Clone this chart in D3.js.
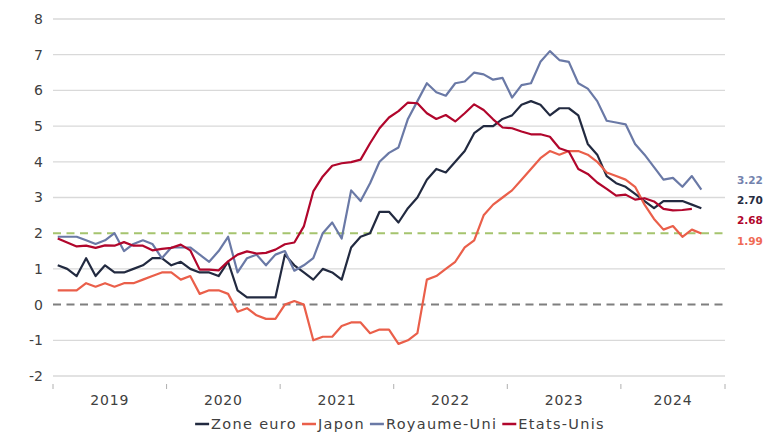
<!DOCTYPE html>
<html>
<head>
<meta charset="utf-8">
<script src="https://cdn.jsdelivr.net/npm/d3@7"></script>
<style>
  html, body { margin: 0; padding: 0; background: #fff; }
  svg { display: block; font-family: "DejaVu Sans", Verdana, sans-serif; }
</style>
</head>
<body>
<svg id="chart" width="765" height="433"></svg>
<script>
// Years on the category axis and how many months each one holds (Jan 2019 - Nov 2024).
const years = ["2019", "2020", "2021", "2022", "2023", "2024"];
const monthsPerYear = [12, 12, 12, 12, 12, 11];
const yTicks = [-2, -1, 0, 1, 2, 3, 4, 5, 6, 7, 8];

// Monthly values, starting Jan 2019.
const zoneEuro = [
  1.1, 1.0, 0.8, 1.3, 0.8, 1.1, 0.9, 0.9, 1.0, 1.1, 1.3, 1.3,
  1.1, 1.2, 1.0, 0.9, 0.9, 0.8, 1.2, 0.4, 0.2, 0.2, 0.2, 0.2,
  1.4, 1.1, 0.9, 0.7, 1.0, 0.9, 0.7, 1.6, 1.9, 2.0, 2.6, 2.6,
  2.3, 2.7, 3.0, 3.5, 3.8, 3.7, 4.0, 4.3, 4.8, 5.0, 5.0, 5.2,
  5.3, 5.6, 5.7, 5.6, 5.3, 5.5, 5.5, 5.3, 4.5, 4.2, 3.6, 3.4,
  3.3, 3.1, 2.9, 2.7, 2.9, 2.9, 2.9, 2.8, 2.7
];
const japon = [
  0.4, 0.4, 0.4, 0.6, 0.5, 0.6, 0.5, 0.6, 0.6, 0.7, 0.8, 0.9,
  0.9, 0.7, 0.8, 0.3, 0.4, 0.4, 0.3, -0.2, -0.1, -0.3, -0.4, -0.4,
  0.0, 0.1, 0.0, -1.0, -0.9, -0.9, -0.6, -0.5, -0.5, -0.8, -0.7, -0.7,
  -1.1, -1.0, -0.8, 0.7, 0.8, 1.0, 1.2, 1.6, 1.8, 2.5, 2.8, 3.0,
  3.2, 3.5, 3.8, 4.1, 4.3, 4.2, 4.3, 4.3, 4.2, 4.0, 3.7, 3.6,
  3.5, 3.3, 2.8, 2.4, 2.1, 2.2, 1.9, 2.1, 1.99
];
const royaumeUni = [
  1.9, 1.9, 1.9, 1.8, 1.7, 1.8, 2.0, 1.5, 1.7, 1.8, 1.7, 1.3,
  1.6, 1.6, 1.6, 1.4, 1.2, 1.5, 1.9, 0.9, 1.3, 1.4, 1.1, 1.4,
  1.5, 0.95, 1.1, 1.3, 2.0, 2.3, 1.85, 3.2, 2.9, 3.4, 4.0, 4.25,
  4.4, 5.2, 5.7, 6.2, 5.95, 5.85, 6.2, 6.25, 6.5, 6.45, 6.3, 6.35,
  5.8, 6.15, 6.2, 6.8, 7.1, 6.85, 6.8, 6.2, 6.05, 5.7, 5.15, 5.1,
  5.05, 4.5, 4.2, 3.85, 3.5, 3.55, 3.3, 3.6, 3.22
];
const etatsUnis = [
  1.85, 1.74, 1.63, 1.65, 1.59, 1.66, 1.65, 1.75, 1.65, 1.65, 1.52, 1.56,
  1.59, 1.68, 1.52, 0.98, 0.98, 0.96, 1.21, 1.4, 1.49, 1.43, 1.45, 1.54,
  1.69, 1.74, 2.19, 3.17, 3.59, 3.89, 3.96, 3.99, 4.06, 4.52, 4.94, 5.24,
  5.42, 5.66, 5.64, 5.36, 5.2, 5.31, 5.13, 5.36, 5.61, 5.45, 5.19, 4.96,
  4.94, 4.85, 4.77, 4.77, 4.7, 4.38, 4.29, 3.8, 3.66, 3.42, 3.24, 3.05,
  3.08, 2.94, 2.98, 2.89, 2.68, 2.64, 2.65, 2.68
];
const seriesNames = ["Zone euro", "Japon", "Royaume-Uni", "Etats-Unis"];
const seriesValues = [zoneEuro, japon, royaumeUni, etatsUnis];
const lastLabels = ["2.70", "1.99", "3.22", "2.68"];
const target = 2;

const colors = ["#222a40", "#ea5f4a", "#6a79a6", "#b1062c"];
const labelColors = ["#262c40", "#f06a55", "#7382ad", "#b1062c"];

const svg = d3.select("#chart");
const nMonths = d3.sum(monthsPerYear);

const x = d3.scaleLinear().domain([0, nMonths]).range([53, 725]);
const y = d3.scaleLinear().domain([-2, 8]).range([376, 19]);
const xc = (i) => x(i + 0.5);

// Gridlines (0 and 2 get dashed reference lines instead).
svg.append("g")
  .selectAll("line")
  .data(yTicks.filter((t) => t !== 0 && t !== target))
  .join("line")
  .attr("x1", x(0)).attr("x2", x(nMonths))
  .attr("y1", (d) => y(d)).attr("y2", (d) => y(d))
  .attr("stroke", "#d9d9d9").attr("stroke-width", 1.3);

// Y axis labels (plain hyphen for negatives, as in the source).
const yAxis = svg.append("g")
  .attr("transform", `translate(${x(0) - 10},0)`)
  .call(d3.axisLeft(y).tickValues(yTicks).tickSize(0).tickPadding(0).tickFormat((d) => String(d)));
yAxis.select(".domain").remove();
yAxis.selectAll("text")
  .attr("font-family", "DejaVu Sans, Verdana, sans-serif")
  .attr("font-size", "14px").attr("fill", "#404040");

// Reference lines at 0 and at the 2% target.
svg.append("line")
  .attr("x1", x(0)).attr("x2", x(nMonths))
  .attr("y1", y(0)).attr("y2", y(0))
  .attr("stroke", "#7f7f7f").attr("stroke-width", 2).attr("stroke-dasharray", "8,5.5");
svg.append("line")
  .attr("x1", x(0)).attr("x2", x(nMonths))
  .attr("y1", y(target)).attr("y2", y(target))
  .attr("stroke", "#a5c46e").attr("stroke-width", 2).attr("stroke-dasharray", "8,5.5");

// Year ticks and labels.
const yearStarts = d3.cumsum([0, ...monthsPerYear]);
svg.append("g")
  .selectAll("line")
  .data(yearStarts)
  .join("line")
  .attr("x1", (d) => x(d)).attr("x2", (d) => x(d))
  .attr("y1", 384).attr("y2", 389)
  .attr("stroke", "#b0b0b0").attr("stroke-width", 1);
svg.append("g")
  .selectAll("text")
  .data(years)
  .join("text")
  .attr("x", (d, i) => (x(yearStarts[i]) + x(yearStarts[i + 1])) / 2)
  .attr("y", 405)
  .attr("text-anchor", "middle")
  .attr("font-size", "14px").attr("letter-spacing", "0.8px")
  .attr("fill", "#404040")
  .text((d) => d);

// Series lines.
const line = d3.line().x((d, i) => xc(i)).y((d) => y(d));
seriesValues.forEach((vals, k) => {
  svg.append("path")
    .datum(vals)
    .attr("d", line)
    .attr("fill", "none")
    .attr("stroke", colors[k])
    .attr("stroke-width", 2.2)
    .attr("stroke-linejoin", "round");
});

// Last value labels on the right.
const labelY = { 2: 184, 0: 204, 3: 224, 1: 245 };
seriesValues.forEach((vals, k) => {
  svg.append("text")
    .attr("x", 737)
    .attr("y", labelY[k])
    .attr("font-size", "10.5px").attr("font-weight", "bold")
    .attr("fill", labelColors[k])
    .text(lastLabels[k]);
});

// Legend, centred below the axis.
const legend = svg.append("g");
let lx = 0;
seriesNames.forEach((name, k) => {
  legend.append("line")
    .attr("x1", lx).attr("x2", lx + 14)
    .attr("y1", 424).attr("y2", 424)
    .attr("stroke", colors[k]).attr("stroke-width", 2.5);
  const t = legend.append("text")
    .attr("x", lx + 16).attr("y", 429)
    .attr("font-size", "14.5px").attr("letter-spacing", "1.3px")
    .attr("fill", "#404040")
    .text(name);
  lx += 16 + t.node().getComputedTextLength() + 5;
});
const lw = lx - 5;
legend.attr("transform", `translate(${400 - lw / 2},0)`);
</script>
</body>
</html>
